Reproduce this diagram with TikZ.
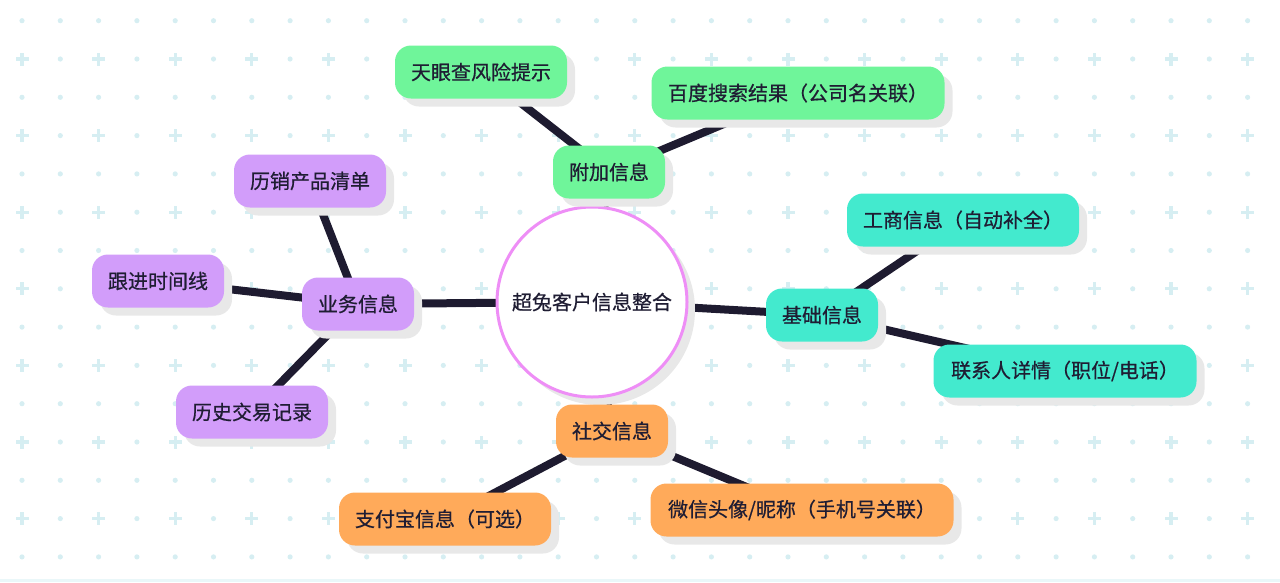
\documentclass[tikz,border=0pt]{standalone}
\usepackage{fontspec}
\setmainfont{Noto Sans CJK SC}
\newfontfamily\medfont{Noto Sans CJK SC}[FakeBold=0.6]
\usetikzlibrary{shadows,backgrounds}
\definecolor{gridc}{HTML}{D6EEF2}
\definecolor{edgec}{HTML}{1E1B30}
\definecolor{txtc}{HTML}{1F1D33}
\definecolor{greenc}{HTML}{6FF59A}
\definecolor{purplec}{HTML}{D29DFA}
\definecolor{tealc}{HTML}{43EACE}
\definecolor{orangec}{HTML}{FFAA5A}
\definecolor{ringc}{HTML}{EE8EF6}
\definecolor{shadc}{HTML}{E8E8E8}
\definecolor{stripc}{HTML}{EAF7F9}
\tikzset{
  topic/.style={rounded corners=16pt, minimum height=53pt, inner xsep=16pt,
    font=\medfont\fontsize{20pt}{22pt}\selectfont, text=txtc,
    drop shadow={shadow xshift=8pt, shadow yshift=-8pt, fill=shadc, opacity=1}},
  gtopic/.style={topic, fill=greenc},
  ptopic/.style={topic, fill=purplec},
  ttopic/.style={topic, fill=tealc},
  otopic/.style={topic, fill=orangec},
  link/.style={draw=edgec, line width=8pt},
  centre/.style={circle, minimum size=190pt, fill=white, draw=ringc, line width=3pt,
    font=\medfont\fontsize{20pt}{22pt}\selectfont, text=txtc,
    drop shadow={shadow xshift=8pt, shadow yshift=-8pt, fill=shadc, opacity=1}},
}
\begin{document}
\begin{tikzpicture}[x=1pt,y=-1pt]
\useasboundingbox (0,0) rectangle (1280,582);
% nodes
\node[centre] (c) at (592,302) {超兔客户信息整合};
\node[gtopic, minimum width=110pt] (fj) at (609,172) {附加信息};
\node[gtopic, minimum width=172pt] (tyc) at (481,72) {天眼查风险提示};
\node[gtopic, minimum width=293pt] (bd) at (798,93) {百度搜索结果（公司名关联）};
\node[ptopic, minimum width=110pt] (yw) at (358,304) {业务信息};
\node[ptopic, minimum width=151pt] (lx) at (310,181) {历销产品清单};
\node[ptopic, minimum width=132pt] (gj) at (158,281) {跟进时间线};
\node[ptopic, minimum width=151pt] (ls) at (252,412) {历史交易记录};
\node[ttopic, minimum width=110pt] (jc) at (822,315) {基础信息};
\node[ttopic, minimum width=231pt] (gs) at (963,220) {工商信息（自动补全）};
\node[ttopic, minimum width=263pt] (lxr) at (1065,371) {联系人详情（职位/电话）};
\node[otopic, minimum width=111pt] (sj) at (612,431) {社交信息};
\node[otopic, minimum width=212pt] (zfb) at (445,519) {支付宝信息（可选）};
\node[otopic, minimum width=303pt] (wx) at (802,510) {微信头像/昵称（手机号关联）};
\begin{scope}[on background layer]
% background grid
\fill[stripc] (0,579) rectangle (1280,582);
\foreach \i in {0,...,32}{
  \foreach \j in {0,...,14}{
    \pgfmathsetmacro{\px}{22+38.3*\i}
    \pgfmathsetmacro{\py}{20.7+38.3*\j}
    \pgfmathtruncatemacro{\ci}{mod(\i,2)}
    \pgfmathtruncatemacro{\cj}{mod(\j,2)}
    \ifnum\ci=0 \ifnum\cj=1
      \fill[gridc] (\px-6.5,\py-1.6) rectangle (\px+6.5,\py+1.6);
      \fill[gridc] (\px-1.6,\py-6.5) rectangle (\px+1.6,\py+6.5);
    \else
      \fill[gridc] (\px,\py) circle (2.6);
    \fi\else
      \fill[gridc] (\px,\py) circle (2.6);
    \fi
  }
}
% connectors
\draw[link] (c.center) -- (fj.center);
\draw[link] (fj.center) -- (tyc.center);
\draw[link] (fj.center) -- (bd.center);
\draw[link] (c.center) -- (yw.center);
\draw[link] (yw.center) -- (lx.center);
\draw[link] (yw.center) -- (gj.center);
\draw[link] (yw.center) -- (ls.center);
\draw[link] (c.center) -- (jc.center);
\draw[link] (jc.center) -- (gs.center);
\draw[link] (jc.center) -- (lxr.center);
\draw[link] (c.center) -- (sj.center);
\draw[link] (sj.center) -- (zfb.center);
\draw[link] (sj.center) -- (wx.center);
\end{scope}
\end{tikzpicture}
\end{document}
